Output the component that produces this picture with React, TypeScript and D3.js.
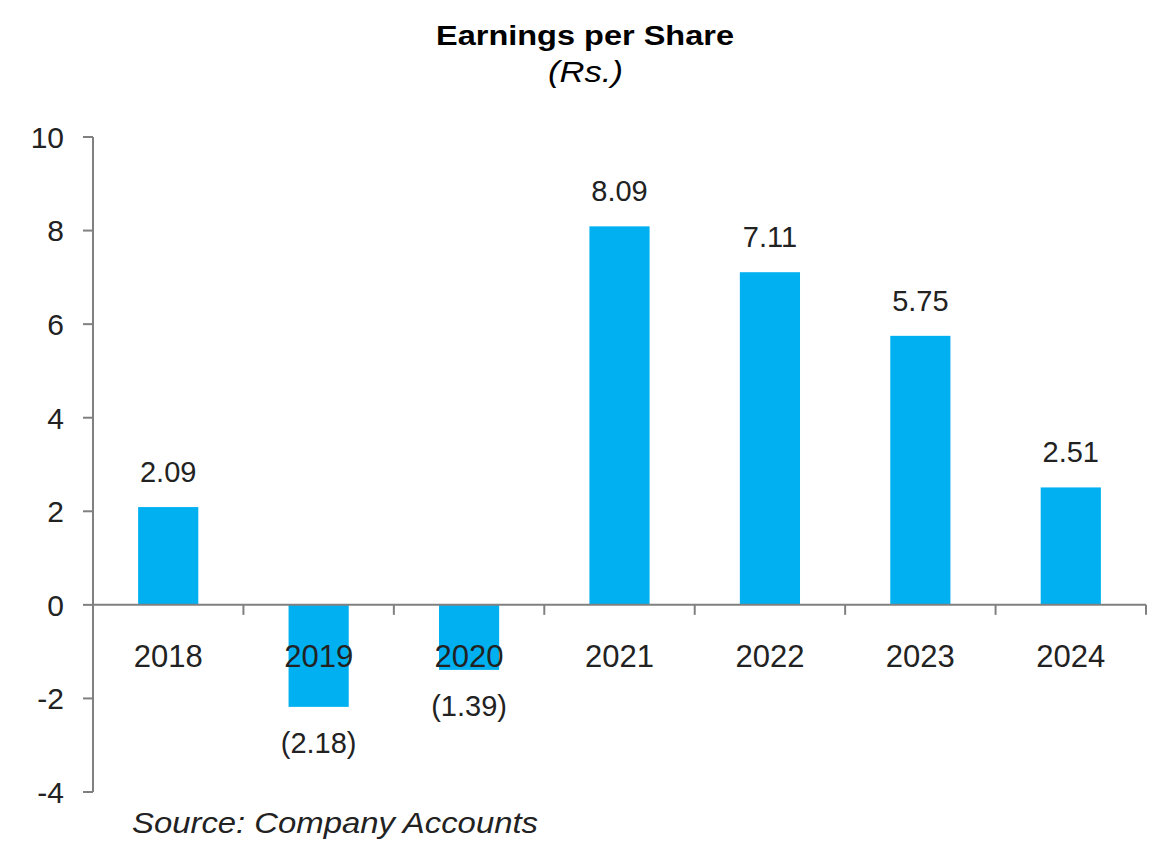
import React from "react";
import * as d3 from "d3";

const years = ["2018", "2019", "2020", "2021", "2022", "2023", "2024"];
const eps = [2.09, -2.18, -1.39, 8.09, 7.11, 5.75, 2.51];
const yTicks = [-4, -2, 0, 2, 4, 6, 8, 10];

const W = 1170;
const H = 857;
const left = 93;
const right = 1146;
const top = 137;
const bottom = 792;
const FONT = "'Liberation Sans', Arial, sans-serif";

function fmt(v: number) {
  return v < 0 ? `(${Math.abs(v).toFixed(2)})` : v.toFixed(2);
}

export default function App() {
  const x = d3.scaleBand<string>().domain(years).range([left, right]).paddingInner(0.6).paddingOuter(0.3);
  const y = d3.scaleLinear().domain([-4, 10]).range([bottom, top]);
  const y0 = y(0);
  const boundaries = d3.range(years.length + 1).map((i) => left + i * ((right - left) / years.length));

  return (
    <svg width={W} height={H} style={{ position: "absolute", left: 0, top: 0, background: "#fff" }} fontFamily={FONT}>
      <text x={436} y={45} fontSize={28} fontWeight="bold" fill="#000" textLength={298} lengthAdjust="spacingAndGlyphs">Earnings per Share</text>
      <text x={548} y={82} fontSize={29} fontStyle="italic" fill="#000" textLength={75} lengthAdjust="spacingAndGlyphs">(Rs.)</text>

      {years.map((yr, i) => {
        const v = eps[i];
        const bx = x(yr)!;
        const yt = y(Math.max(0, v));
        const yb = y(Math.min(0, v));
        return (
          <rect key={yr} x={bx} y={yt} width={x.bandwidth()} height={yb - yt} fill="#00b0f0" />
        );
      })}

      {/* y axis */}
      <line x1={left} x2={left} y1={top} y2={bottom} stroke="#808080" strokeWidth={2} />
      {yTicks.map((t) => (
        <g key={t}>
          <line x1={left - 10} x2={left} y1={y(t)} y2={y(t)} stroke="#808080" strokeWidth={2} />
          <text x={left - 29} y={y(t)} dy="0.36em" textAnchor="end" fontSize={30} fill="#222">{t}</text>
        </g>
      ))}

      {/* x axis */}
      <line x1={left} x2={right} y1={y0} y2={y0} stroke="#808080" strokeWidth={2} />
      {boundaries.slice(1).map((bx, i) => (
        <line key={i} x1={bx} x2={bx} y1={y0} y2={y0 + 10} stroke="#808080" strokeWidth={2} />
      ))}
      {years.map((yr) => (
        <text key={yr} x={x(yr)! + x.bandwidth() / 2} y={667} textAnchor="middle" fontSize={31} fill="#222">{yr}</text>
      ))}

      {years.map((yr, i) => {
        const v = eps[i];
        const cx = x(yr)! + x.bandwidth() / 2;
        const ly = v >= 0 ? y(v) - 25 : y(v) + 46;
        return (
          <text key={yr} x={cx} y={ly} textAnchor="middle" fontSize={29} fill="#222">{fmt(v)}</text>
        );
      })}

      <text x={132} y={833} fontSize={30} fontStyle="italic" fill="#222" textLength={406} lengthAdjust="spacingAndGlyphs">Source: Company Accounts</text>
    </svg>
  );
}
